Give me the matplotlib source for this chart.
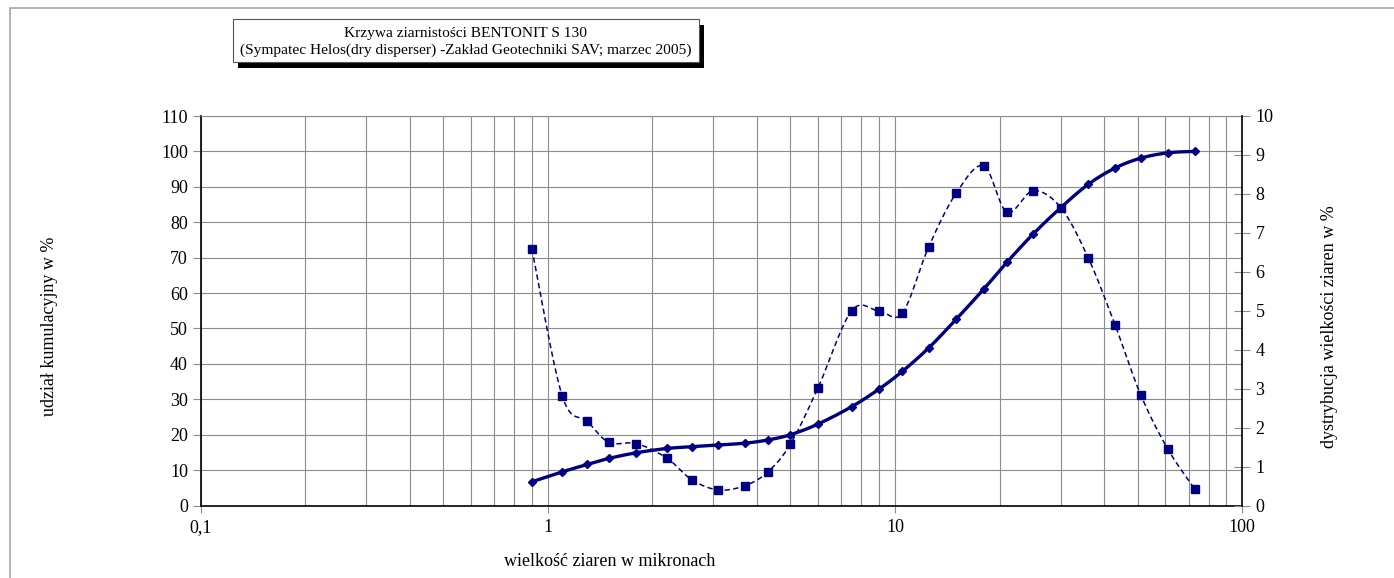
import matplotlib
matplotlib.use('Agg')
import matplotlib.pyplot as plt
import numpy as np
from matplotlib.patches import Rectangle
from matplotlib.ticker import FixedLocator, NullFormatter

plt.rcParams['font.family'] = ['Liberation Serif', 'DejaVu Serif']

# grain size classes (micrometres)
size_um = [0.9, 1.1, 1.3, 1.5, 1.8, 2.2, 2.6, 3.1, 3.7, 4.3, 5.0, 6.0, 7.5, 9.0,
           10.5, 12.5, 15, 18, 21, 25, 30, 36, 43, 51, 61, 73]
# cumulative share, %
cumulative = [6.7, 9.5, 11.6, 13.3, 14.9, 16.1, 16.6, 17.1, 17.6, 18.5, 20.0, 23.0, 27.9, 32.9,
              37.9, 44.5, 52.6, 61.1, 68.7, 76.7, 84.1, 90.7, 95.3, 98.1, 99.6, 100.0]
# size distribution, %
distribution = [6.59, 2.82, 2.16, 1.62, 1.59, 1.22, 0.66, 0.40, 0.51, 0.86, 1.58, 3.02, 5.00, 4.99,
                4.94, 6.64, 8.02, 8.72, 7.53, 8.08, 7.65, 6.36, 4.64, 2.84, 1.45, 0.42]

W, H = 1394, 578
navy = '#000080'
grid_c = '#8c8c8c'
fs = 13


def smooth(x, y, sx, sy, n=20):
    # excel-like bezier smoothing in screen-ish space
    u = np.log10(np.array(x, float)) * sx
    v = np.array(y, float) * sy
    pu, pv = [], []
    m = len(u)
    for i in range(m - 1):
        i0 = max(i - 1, 0)
        i3 = min(i + 2, m - 1)
        c1u = u[i] + (u[i + 1] - u[i0]) / 6
        c1v = v[i] + (v[i + 1] - v[i0]) / 6
        c2u = u[i + 1] - (u[i3] - u[i]) / 6
        c2v = v[i + 1] - (v[i3] - v[i]) / 6
        t = np.linspace(0, 1, n)
        a, b, c, d = (1 - t) ** 3, 3 * t * (1 - t) ** 2, 3 * t ** 2 * (1 - t), t ** 3
        pu.extend(a * u[i] + b * c1u + c * c2u + d * u[i + 1])
        pv.extend(a * v[i] + b * c1v + c * c2v + d * v[i + 1])
    return 10 ** (np.array(pu) / sx), np.array(pv) / sy


fig = plt.figure(figsize=(W / 100, H / 100), dpi=100)

# outer frame (top and left edges visible)
fig.patches.append(Rectangle((10 / W, -0.1), 1.2, 1 - 8 / H + 0.1, transform=fig.transFigure,
                             fill=False, edgecolor='#a6a6a6', lw=1.2))

x0, x1, y0, y1 = 200.5, 1242.3, 116, 505.5
ax = fig.add_axes([x0 / W, 1 - y1 / H, (x1 - x0) / W, (y1 - y0) / H])
ax.set_xscale('log')
ax.set_xlim(0.1, 100)
ax.set_ylim(0, 110)
ax.set_yticks(np.arange(0, 111, 10))
ax.xaxis.set_major_locator(FixedLocator([0.1, 1, 10, 100]))
ax.set_xticklabels(['0,1', '1', '10', '100'])
minors = [k * 10.0 ** e for e in (-1, 0, 1) for k in range(2, 10)]
ax.xaxis.set_minor_locator(FixedLocator(minors))
ax.xaxis.set_minor_formatter(NullFormatter())
ax.grid(True, which='both', axis='x', color=grid_c, lw=0.8)
ax.grid(True, which='major', axis='y', color=grid_c, lw=0.8)
ax.set_axisbelow(True)
ax.tick_params(axis='x', which='major', length=5, color=grid_c, labelsize=fs, pad=5)
ax.tick_params(axis='x', which='minor', length=0)
ax.tick_params(axis='y', length=6, color=grid_c, labelsize=fs, pad=3)
ax.spines['top'].set_color(grid_c)
ax.spines['top'].set_linewidth(0.8)
ax.spines['right'].set_visible(False)
for s in ('left', 'bottom'):
    ax.spines[s].set_color('black')
    ax.spines[s].set_linewidth(1.2)

sx = 347.3
cx, cy = smooth(size_um, cumulative, sx, 389.5 / 110)
ax.plot(cx, cy, color=navy, lw=2.4, solid_capstyle='round')
ax.plot(size_um, cumulative, ls='none', marker='D', ms=4.2, color=navy)

ax2 = ax.twinx()
ax2.set_ylim(0, 10)
ax2.set_yticks(np.arange(0, 11, 1))
ax2.tick_params(axis='y', direction='inout', length=11, color=grid_c, labelsize=fs, pad=4)
ax2.spines['right'].set_color('black')
ax2.spines['right'].set_linewidth(1.2)
for s in ('left', 'top', 'bottom'):
    ax2.spines[s].set_visible(False)
dx, dy = smooth(size_um, distribution, sx, 389.5 / 10)
ax2.plot(dx, dy, color=navy, lw=1.1, ls=(0, (3.5, 2.2)))
ax2.plot(size_um, distribution, ls='none', marker='s', ms=5.2, color=navy)

# axis titles
fig.text(50 / W, 1 - 326 / H, 'udział kumulacyjny w %', rotation=90, ha='center', va='center', fontsize=fs)
fig.text(1330 / W, 1 - 327 / H, 'dystrybucja wielkości ziaren w %', rotation=90, ha='center', va='center',
         fontsize=fs)
fig.text(610 / W, 1 - 562 / H, 'wielkość ziaren w mikronach', ha='center', va='center', fontsize=fs)

# title box with shadow
bx0, by0, bx1, by1 = 233, 19, 699, 62
fig.patches.append(Rectangle(((bx0 + 5) / W, 1 - (by1 + 6) / H), (bx1 - bx0) / W, (by1 - by0) / H,
                             transform=fig.transFigure, facecolor='black', edgecolor='none'))
fig.patches.append(Rectangle((bx0 / W, 1 - by1 / H), (bx1 - bx0) / W, (by1 - by0) / H,
                             transform=fig.transFigure, facecolor='white', edgecolor='#555555', lw=0.8))
fig.text(466 / W, 1 - 33 / H, 'Krzywa ziarnistości BENTONIT S 130', ha='center', va='center', fontsize=11.1)
fig.text(466 / W, 1 - 50 / H, '(Sympatec Helos(dry disperser) -Zakład Geotechniki SAV; marzec 2005)',
         ha='center', va='center', fontsize=11.1)

fig.savefig('out.png', dpi=100)
